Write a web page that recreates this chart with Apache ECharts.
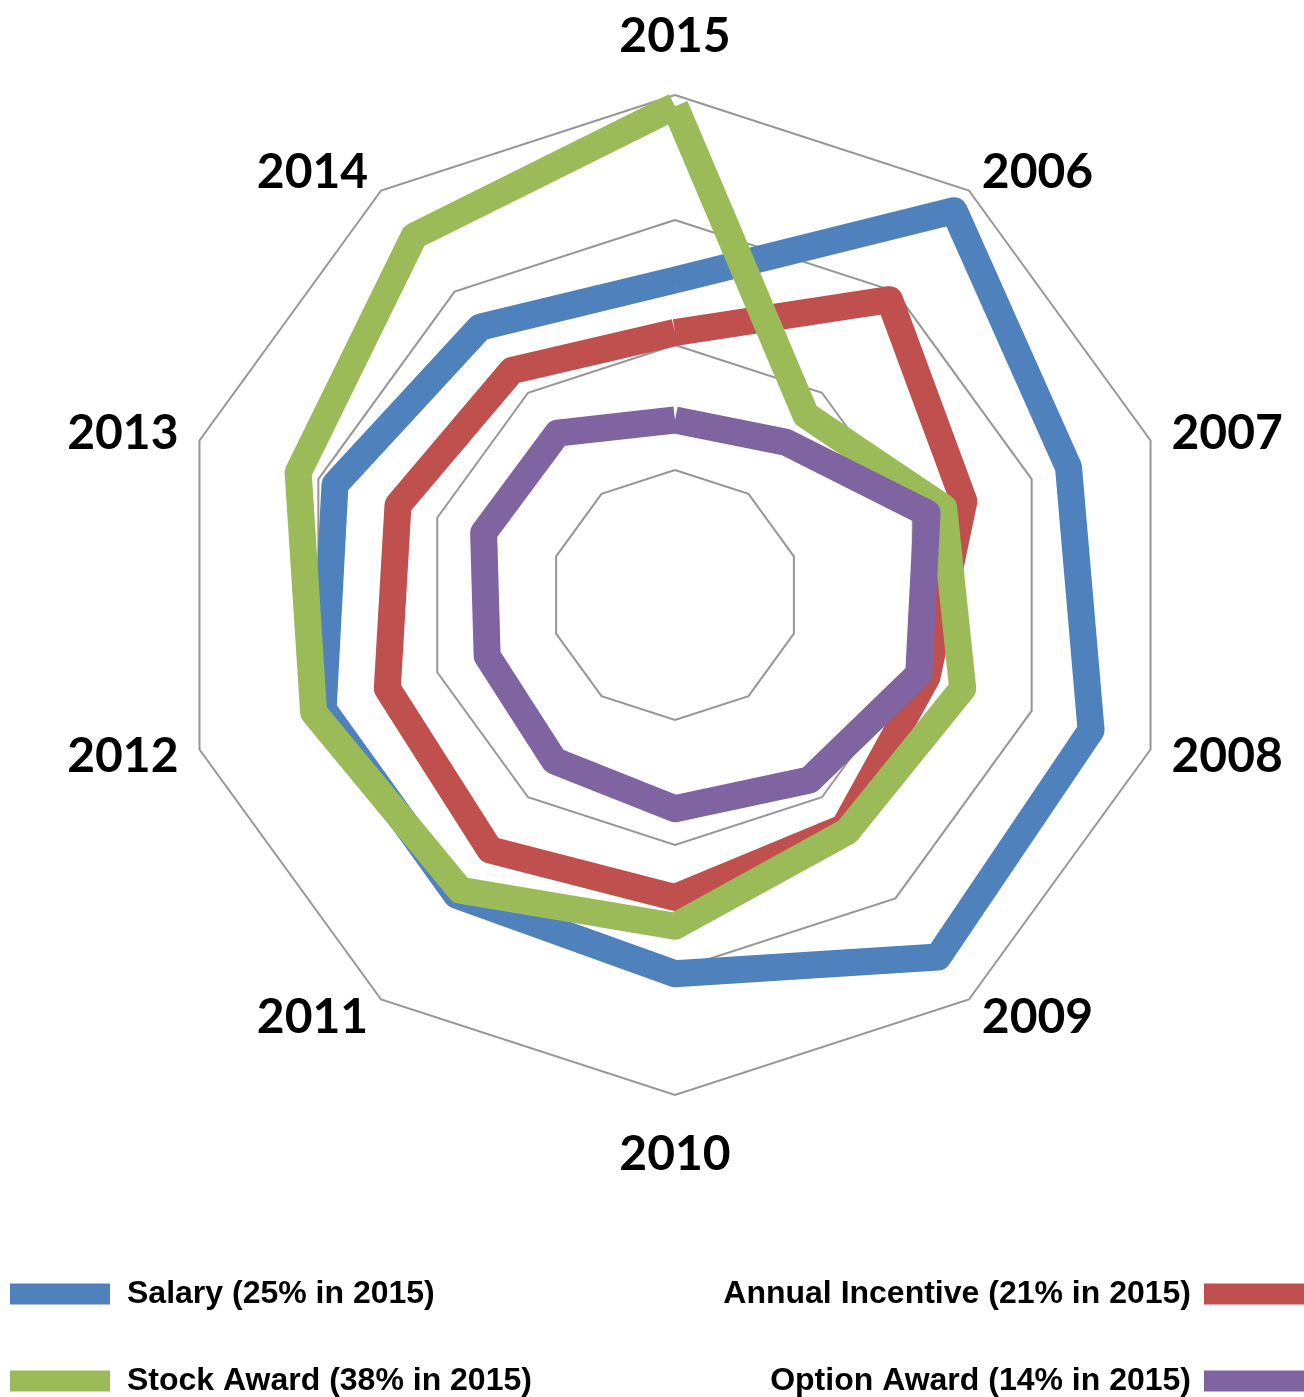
<!DOCTYPE html>
<html>
<head>
<meta charset="utf-8">
<title>Pay mix radar</title>
<script src="https://cdn.jsdelivr.net/npm/echarts@6/dist/echarts.min.js"></script>
<style>
  html, body { margin: 0; padding: 0; background: #fff; }
  #chart { width: 1304px; height: 1397px; }
</style>
</head>
<body>
<div id="chart"></div>
<script>
// axes, read clockwise starting at the top
const years = ["2015", "2006", "2007", "2008", "2009", "2010", "2011", "2012", "2013", "2014"];
const salary = [2.52, 3.80, 3.31, 3.50, 3.58, 3.03, 2.97, 2.96, 2.86, 2.65];
const annualIncentive = [2.10, 2.92, 2.43, 2.12, 2.30, 2.42, 2.52, 2.42, 2.33, 2.22];
const stockAward = [3.91, 1.78, 2.26, 2.42, 2.34, 2.65, 2.92, 3.04, 3.17, 3.55];
const optionAward = [1.40, 1.51, 2.12, 2.05, 1.83, 1.71, 1.64, 1.58, 1.61, 1.60];
const seriesNames = [
  "Salary (25% in 2015)",
  "Annual Incentive (21% in 2015)",
  "Stock Award (38% in 2015)",
  "Option Award (14% in 2015)",
];
const axisMax = 4;

const colors = ["#4F81BD", "#C0504D", "#9BBB59", "#8064A2"];

// echarts lays indicators out counter-clockwise, so flip the order after the first one
const order = years.map((_, i) => (years.length - i) % years.length);
const pick = (arr) => order.map((i) => arr[i]);

const myChart = echarts.init(document.getElementById("chart"));
const legendText = {
  color: "#000",
  fontFamily: "Liberation Sans",
  fontWeight: "bold",
  fontSize: 32,
};

// one legend per entry: left column has swatch first, right column has it last
const makeLegend = (name, row, onRight) => {
  const lg = {
    orient: "horizontal",
    top: row === 0 ? 1278 : 1365,
    padding: 0,
    itemWidth: 100,
    itemHeight: 21,
    icon: "rect",
    data: [name],
    selectedMode: false,
    textStyle: Object.assign(
      { padding: onRight ? [0, 8, 0, 0] : [0, 0, 0, 12] },
      legendText
    ),
  };
  if (onRight) {
    lg.right = 0;
    lg.align = "right";
  } else {
    lg.left = 10;
  }
  return lg;
};

const option = {
  animation: false,
  color: colors,
  legend: [
    makeLegend(seriesNames[0], 0, false),
    makeLegend(seriesNames[1], 0, true),
    makeLegend(seriesNames[2], 1, false),
    makeLegend(seriesNames[3], 1, true),
  ],
  radar: {
    center: [675, 595],
    radius: 500,
    startAngle: 90,
    shape: "polygon",
    splitNumber: 4,
    indicator: pick(years).map((y) => ({ name: y, min: 0, max: axisMax })),
    nameGap: 22,
    axisName: {
      color: "#000",
      fontFamily: "Lato",
      fontWeight: "bold",
      fontSize: 48,
      formatter: (name) => {
        // top and bottom labels sit a bit further out
        if (name === years[0]) return "{top|" + name + "}";
        if (name === years[5]) return "{bot|" + name + "}";
        return name;
      },
      rich: {
        top: { fontFamily: "Lato", fontWeight: "bold", fontSize: 48, color: "#000", padding: [0, 0, 12, 0] },
        bot: { fontFamily: "Lato", fontWeight: "bold", fontSize: 48, color: "#000", padding: [14, 0, 0, 0] },
      },
    },
    axisLine: { show: false },
    axisTick: { show: false },
    axisLabel: { show: false },
    splitArea: { show: false },
    splitLine: { lineStyle: { color: "#969696", width: 2 } },
  },
  series: [
    {
      type: "radar",
      symbol: "none",
      silent: true,
      emphasis: { disabled: true },
      lineStyle: { width: 27, join: "round" },
      data: [salary, annualIncentive, stockAward, optionAward].map((vals, i) => ({
        name: seriesNames[i],
        value: pick(vals),
        itemStyle: { color: colors[i] },
        lineStyle: { color: colors[i], width: 27, join: "round" },
      })),
    },
  ],
};
myChart.setOption(option);
</script>
</body>
</html>
